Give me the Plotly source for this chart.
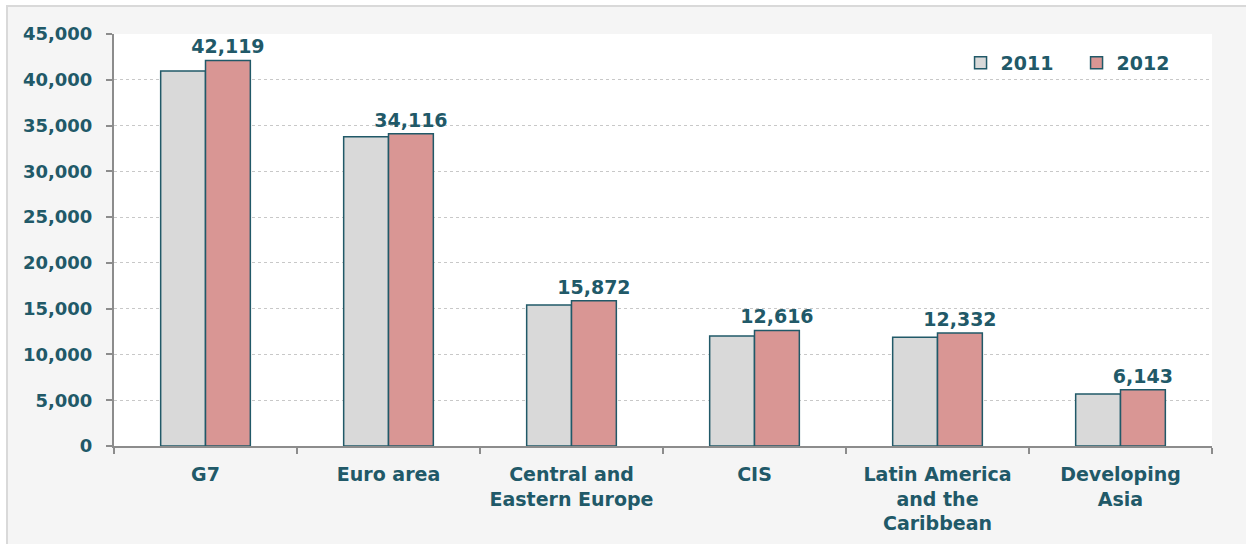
import plotly.graph_objects as go

categories = ["G7", "Euro area", "Central and<br>Eastern Europe", "CIS",
              "Latin America<br>and the<br>Caribbean", "Developing<br>Asia"]
values_2011 = [40970, 33770, 15400, 12020, 11880, 5680]
values_2012 = [42119, 34116, 15872, 12616, 12332, 6143]
y_ticks = [0, 5000, 10000, 15000, 20000, 25000, 30000, 35000, 40000, 45000]

TEAL = "#215968"
FONT = "DejaVu Sans, sans-serif"
BOLD = dict(family=FONT, size=19, color=TEAL, weight="bold")
BOLD_TICK = dict(family=FONT, size=18, color=TEAL, weight="bold")

fig = go.Figure()
fig.add_trace(go.Bar(
    name="2011", x=categories, y=values_2011,
    marker=dict(color="#d9d9d9", line=dict(color=TEAL, width=1.5)),
))
fig.add_trace(go.Bar(
    name="2012", x=categories, y=values_2012,
    marker=dict(color="#d99694", line=dict(color=TEAL, width=1.5)),
    text=[f"{v:,}" for v in values_2012],
    textposition="outside",
    constraintext="none",
    textfont=BOLD,
    cliponaxis=False,
))

fig.update_layout(
    width=1246, height=544,
    margin=dict(l=114, r=34, t=34, b=98),
    paper_bgcolor="white",
    plot_bgcolor="white",
    barmode="group",
    bargap=0.51,
    bargroupgap=0,
    font=BOLD,
    showlegend=True,
    legend=dict(
        orientation="h", x=0.771, y=0.93, xanchor="left", yanchor="middle",
        bgcolor="rgba(0,0,0,0)", font=BOLD,
        itemwidth=30, tracegroupgap=0,
        entrywidth=71, entrywidthmode="pixels",
    ),
    shapes=[
        # light grey frame around the whole chart
        dict(type="rect", xref="paper", yref="paper",
             x0=(7 - 114) / 1098, x1=1.2, y0=-0.4, y1=(446 - 6) / 412,
             fillcolor="#f5f5f5", line=dict(color="#d9d9d9", width=2),
             layer="below"),
        # white plotting area
        dict(type="rect", xref="paper", yref="paper",
             x0=0, x1=1, y0=0, y1=1,
             fillcolor="white", line=dict(width=0), layer="below"),
    ],
)

fig.update_yaxes(
    range=[0, 45000], tickvals=y_ticks, tickformat=",",
    showgrid=True, gridcolor="#c8c8c8", griddash="dot", gridwidth=1,
    showline=True, linecolor="#8c8c8c", linewidth=2,
    ticks="outside", ticklen=6, tickcolor="#8c8c8c", tickwidth=2,
    ticklabelstandoff=10, zeroline=False, automargin=False,
    tickfont=BOLD_TICK,
)
fig.update_xaxes(
    showline=True, linecolor="#8c8c8c", linewidth=2,
    ticks="outside", ticklen=6, tickcolor="#8c8c8c", tickwidth=2,
    tickson="boundaries", showgrid=False, ticklabelstandoff=10,
    automargin=False,
    tickfont=BOLD,
)

fig.write_html("out.html")
